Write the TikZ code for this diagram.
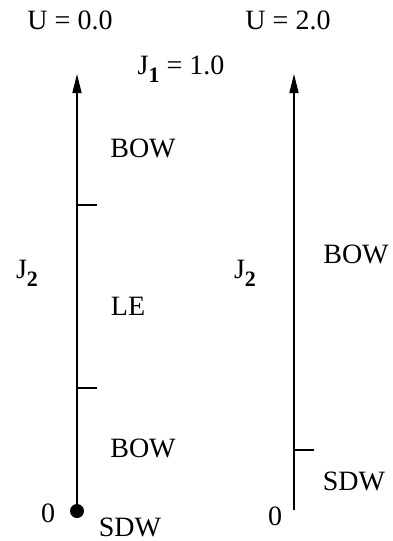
\documentclass[tikz,border=0pt]{standalone}
\usepackage{fontspec}
\setmainfont{Liberation Serif}
\usetikzlibrary{arrows.meta}
\newcommand{\jsub}[1]{J\raisebox{-0.28em}{\fontsize{22}{26}\selectfont\bfseries #1}}
\begin{document}
\begin{tikzpicture}[x=1pt,y=-1pt,
  lbl/.style={font=\fontsize{28}{32}\selectfont, inner sep=0pt},
  axis/.style={line width=1.4pt, -{Triangle[length=19pt,width=9pt]}},
  tick/.style={line width=1.2pt}]
\useasboundingbox (0,0) rectangle (393,541);
% left axis
\coordinate (l0) at (77,511);
\coordinate (ltop) at (77,74);
\draw[axis] (l0) -- (ltop);
\fill (l0) circle (7pt);
\coordinate (lt1) at (77,205);
\coordinate (lt1e) at (97,205);
\coordinate (lt2) at (77,388);
\coordinate (lt2e) at (97,388);
\draw[tick] (lt1) -- (lt1e);
\draw[tick] (lt2) -- (lt2e);
% right axis
\coordinate (r0) at (294,510);
\coordinate (rtop) at (294,74);
\draw[axis] (r0) -- (rtop);
\coordinate (rt1) at (294,450);
\coordinate (rt1e) at (314,450);
\draw[tick] (rt1) -- (rt1e);
% labels
\node[lbl] (u0) at (70,20) {U = 0.0};
\node[lbl] (u2) at (288,20) {U = 2.0};
\node[lbl] (j1) at (181,69) {\jsub{1} = 1.0};
\node[lbl] (bow1) at (143,148) {BOW};
\node[lbl] (j2l) at (27,273) {\jsub{2}};
\node[lbl] (le) at (128,306) {LE};
\node[lbl] (bow2) at (143,448) {BOW};
\node[lbl] (zl) at (48,513) {0};
\node[lbl] (sdw1) at (130,527) {SDW};
\node[lbl] (j2r) at (245,273) {\jsub{2}};
\node[lbl] (bowr) at (356,254) {BOW};
\node[lbl] (sdwr) at (354,481) {SDW};
\node[lbl] (zr) at (275,516) {0};
\end{tikzpicture}
\end{document}
